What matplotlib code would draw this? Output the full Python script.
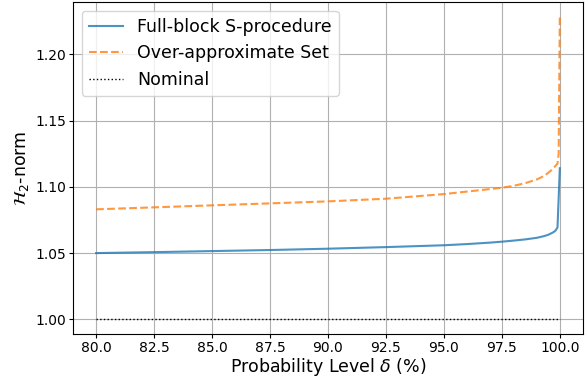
import matplotlib
matplotlib.use("Agg")
import matplotlib.pyplot as plt

delta = [80.0, 82.5, 85.0, 87.5, 90.0, 92.5, 95.0, 96.0, 97.0, 97.5, 98.0, 98.5, 99.0, 99.3, 99.5, 99.7, 99.8, 99.9, 99.95, 100.0]
full_block = [1.050, 1.0507, 1.0515, 1.0523, 1.0533, 1.0545, 1.0559, 1.0568, 1.0579, 1.0586, 1.0594, 1.0603, 1.0615, 1.0627, 1.0638, 1.0655, 1.0667, 1.0693, 1.0915, 1.114]
over_approx = [1.083, 1.0845, 1.086, 1.0875, 1.089, 1.091, 1.0945, 1.0964, 1.0983, 1.0993, 1.1007, 1.1027, 1.1055, 1.108, 1.1105, 1.1135, 1.1155, 1.1175, 1.125, 1.228]
nominal = [1.0] * len(delta)

fig = plt.figure(figsize=(5.88, 3.79), dpi=100)
ax = fig.add_axes([0.124, 0.1175, 0.8675, 0.8772])
ax.plot(delta, full_block, color="#1f77b4", alpha=0.8, lw=1.5, label="Full-block S-procedure")
ax.plot(delta, over_approx, color="#ff7f0e", alpha=0.8, lw=1.5, ls="--", label="Over-approximate Set")
ax.plot(delta, nominal, color="black", lw=1.0, ls=":", label="Nominal")
ax.set_xticks([80, 82.5, 85, 87.5, 90, 92.5, 95, 97.5, 100])
ax.set_yticks([1.00, 1.05, 1.10, 1.15, 1.20])
ax.set_xticklabels(["80.0", "82.5", "85.0", "87.5", "90.0", "92.5", "95.0", "97.5", "100.0"])
ax.set_yticklabels(["1.00", "1.05", "1.10", "1.15", "1.20"])
ax.tick_params(labelsize=10, length=2.7, pad=2.2)
ax.grid(True, color="#b0b0b0", lw=0.8)
ax.set_xlabel(r"Probability Level $\delta$ (%)", fontsize=12.5, labelpad=0.5)
ax.set_ylabel(r"$\mathcal{H}_2$-norm", fontsize=12.5, labelpad=3)
ax.legend(loc="upper left", fontsize=12.5)
fig.savefig("out.png", dpi=100)
